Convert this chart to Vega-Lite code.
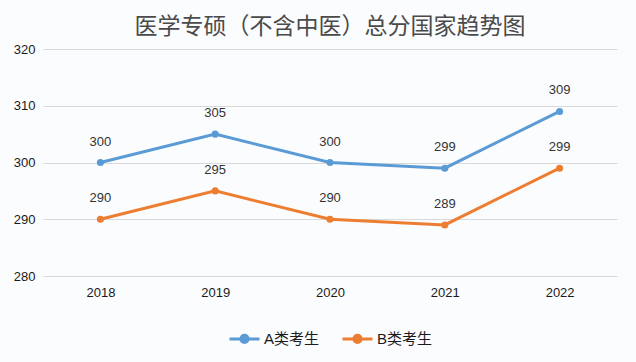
{
  "$schema": "https://vega.github.io/schema/vega-lite/v6.json",
  "autosize": "none",
  "width": 574,
  "height": 227,
  "padding": {"left": 43, "top": 49, "right": 19, "bottom": 86},
  "background": "#fbfcfe",
  "title": {
    "text": "医学专硕（不含中医）总分国家趋势图",
    "font": "Noto Sans CJK SC",
    "fontSize": 23,
    "fontWeight": "normal",
    "color": "#4a4a4a",
    "anchor": "middle",
    "offset": 4
  },
  "config": {
    "view": {"stroke": null},
    "font": "Liberation Sans, Noto Sans CJK SC"
  },
  "data": {
    "values": [
      {"year": "2018", "series": "A类考生", "score": 300},
      {"year": "2019", "series": "A类考生", "score": 305},
      {"year": "2020", "series": "A类考生", "score": 300},
      {"year": "2021", "series": "A类考生", "score": 299},
      {"year": "2022", "series": "A类考生", "score": 309},
      {"year": "2018", "series": "B类考生", "score": 290},
      {"year": "2019", "series": "B类考生", "score": 295},
      {"year": "2020", "series": "B类考生", "score": 290},
      {"year": "2021", "series": "B类考生", "score": 289},
      {"year": "2022", "series": "B类考生", "score": 299}
    ]
  },
  "encoding": {
    "x": {
      "field": "year",
      "type": "ordinal",
      "scale": {"type": "point", "padding": 0.5},
      "axis": {
        "title": null,
        "labelAngle": 0,
        "domain": false,
        "ticks": false,
        "labelPadding": 10,
        "labelFontSize": 13,
        "labelColor": "#1a1a1a",
        "labelFont": "Liberation Sans"
      }
    },
    "y": {
      "field": "score",
      "type": "quantitative",
      "scale": {"domain": [280, 320], "nice": false, "zero": false},
      "axis": {
        "title": null,
        "values": [280, 290, 300, 310, 320],
        "domain": false,
        "ticks": false,
        "labelPadding": 8,
        "labelFontSize": 13,
        "labelColor": "#1a1a1a",
        "labelFont": "Liberation Sans",
        "gridColor": "#d9d9d9",
        "gridWidth": 1
      }
    },
    "color": {
      "field": "series",
      "type": "nominal",
      "scale": {"domain": ["A类考生", "B类考生"], "range": ["#5b9bd5", "#ed7d31"]},
      "legend": {
        "title": null,
        "orient": "none",
        "legendX": 185,
        "legendY": 273,
        "direction": "horizontal",
        "symbolType": "M-1,0L1,0M-0.24,0A0.24,0.24 0 1,1 0.24,0A0.24,0.24 0 1,1 -0.24,0Z",
        "symbolSize": 900,
        "symbolStrokeWidth": 3,
        "labelFontSize": 15,
        "labelColor": "#1a1a1a",
        "labelFont": "Liberation Sans, Noto Sans CJK SC",
        "columnPadding": 16,
        "labelOffset": 3,
        "encode": {
          "symbols": {
            "update": {
              "fill": {"scale": "color", "field": "value"},
              "stroke": {"scale": "color", "field": "value"},
              "fillOpacity": {"value": 1}
            }
          }
        }
      }
    }
  },
  "layer": [
    {
      "mark": {"type": "line", "strokeWidth": 3, "point": {"filled": true, "size": 50}}
    },
    {
      "mark": {"type": "text", "dy": -21, "fontSize": 13, "color": "#333333", "font": "Liberation Sans"},
      "encoding": {
        "text": {"field": "score", "type": "quantitative"},
        "color": {"value": "#333333"}
      }
    }
  ]
}
